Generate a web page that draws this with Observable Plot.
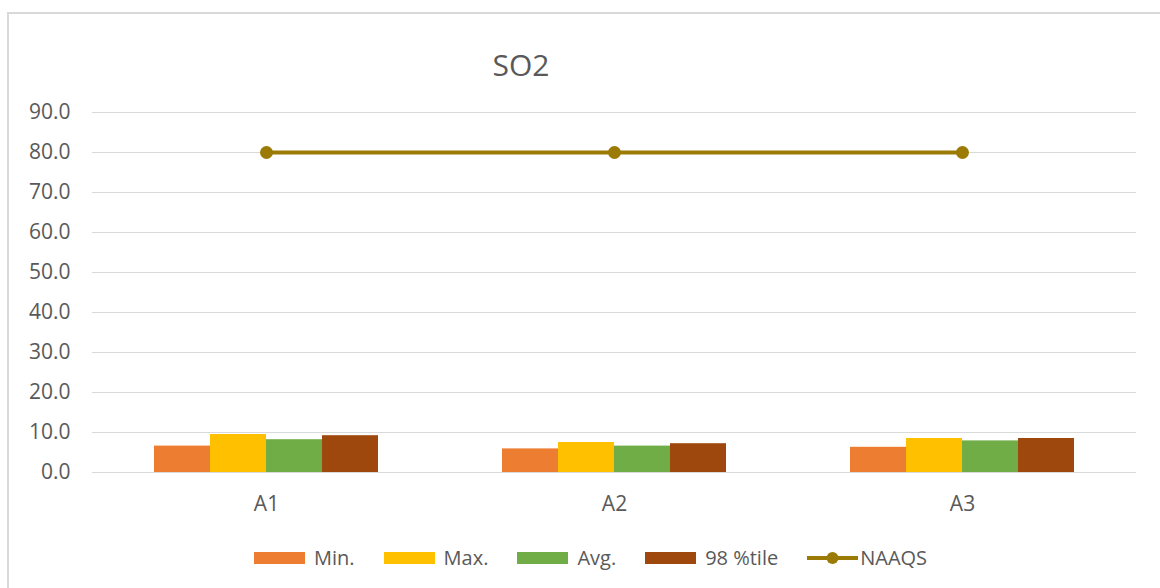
<!DOCTYPE html>
<html>
<head>
<meta charset="utf-8">
<script src="https://cdn.jsdelivr.net/npm/d3@7"></script>
<script src="https://cdn.jsdelivr.net/npm/@observablehq/plot@0.6"></script>
<style>
  html, body { margin: 0; padding: 0; background: #fff; }
  #wrap { position: relative; width: 1160px; height: 588px; overflow: hidden; font-family: "Open Sans", sans-serif; color: #595959; }
  #frame { position: absolute; left: 7px; top: 12px; right: -10px; bottom: -10px; border-left: 2px solid #d9d9d9; border-top: 2px solid #d9d9d9; }
  #title { position: relative; height: 95px; }
  #title span { position: absolute; left: 521px; top: 50px; transform: translateX(-50%); font-size: 30px; line-height: 30px; color: #595959; }
  #chart { position: relative; height: 435px; }
  #chart svg { position: absolute; left: 0; top: 0; }
  #legend { position: relative; height: 58px; }
  #legend .items { position: absolute; left: 254px; top: 15px; display: flex; align-items: center; gap: 29px; font-size: 20px; line-height: 26px; }
  #legend .item { display: flex; align-items: center; gap: 9px; }
  #legend .sw { width: 51px; height: 12px; display: inline-block; }
</style>
</head>
<body>
<div id="wrap">
  <div id="frame"></div>
  <div id="title"><span id="titleText"></span></div>
  <div id="chart"></div>
  <div id="legend"><div class="items" id="legendItems"></div></div>
</div>
<script>
const titleText = "SO2";
const categories = ["A1", "A2", "A3"];
const seriesNames = ["Min.", "Max.", "Avg.", "98 %tile"];
const seriesColors = ["#ED7D31", "#FFC000", "#70AD47", "#9E480E"];
const minValues = [6.6, 5.9, 6.3];
const maxValues = [9.5, 7.5, 8.5];
const avgValues = [8.2, 6.6, 7.9];
const p98Values = [9.2, 7.2, 8.5];
const naaqsName = "NAAQS";
const naaqsValues = [80, 80, 80];
const naaqsColor = "#9B7A05";
const yTicks = [0, 10, 20, 30, 40, 50, 60, 70, 80, 90];

document.getElementById("titleText").textContent = titleText;

const seriesValues = [minValues, maxValues, avgValues, p98Values];
const rows = [];
categories.forEach((c, i) => {
  seriesNames.forEach((s, j) => rows.push({cat: c, series: s, value: seriesValues[j][i]}));
});
const lineRows = categories.map((c, i) => ({cat: c, value: naaqsValues[i]}));

const W = 1160, H = 435;
const common = {
  width: W, height: H,
  marginLeft: 91, marginRight: 24, marginTop: 17, marginBottom: 58,
  style: {fontFamily: "Open Sans, sans-serif", fontSize: "21px", color: "#595959", background: "transparent", overflow: "visible"}
};

const base = Plot.plot({
  ...common,
  facet: {data: rows, x: "cat"},
  fx: {domain: categories, padding: 0, label: null, tickSize: 0, tickPadding: 24, axis: "bottom"},
  x: {domain: seriesNames, paddingInner: 0, paddingOuter: 1.08, axis: null},
  y: {domain: [0, 90], ticks: yTicks, tickFormat: d3.format(".1f"), label: null, tickSize: 0, tickPadding: 22},
  color: {domain: seriesNames, range: seriesColors},
  marks: [
    Plot.ruleY(yTicks, {stroke: "#d9d9d9", strokeWidth: 1}),
    Plot.barY(rows, {x: "series", y: "value", fill: "series"})
  ]
});

const overlay = Plot.plot({
  ...common,
  x: {type: "band", domain: categories, padding: 0, axis: null},
  y: {domain: [0, 90], axis: null},
  marks: [
    Plot.lineY(lineRows, {x: "cat", y: "value", stroke: naaqsColor, strokeWidth: 4}),
    Plot.dot(lineRows, {x: "cat", y: "value", r: 6.5, fill: naaqsColor, stroke: "none"})
  ]
});
overlay.style.pointerEvents = "none";

const chart = document.getElementById("chart");
chart.appendChild(base);
chart.appendChild(overlay);

// legend
const li = document.getElementById("legendItems");
seriesNames.forEach((s, j) => {
  const it = document.createElement("div");
  it.className = "item";
  const sw = document.createElement("span");
  sw.className = "sw";
  sw.style.background = seriesColors[j];
  const t = document.createElement("span");
  t.textContent = s;
  it.appendChild(sw); it.appendChild(t);
  li.appendChild(it);
});
{
  const it = document.createElement("div");
  it.className = "item";
  it.style.gap = "2px";
  const ns = "http://www.w3.org/2000/svg";
  const svg = document.createElementNS(ns, "svg");
  svg.setAttribute("width", "51"); svg.setAttribute("height", "16");
  const ln = document.createElementNS(ns, "line");
  ln.setAttribute("x1", "0"); ln.setAttribute("x2", "51"); ln.setAttribute("y1", "8"); ln.setAttribute("y2", "8");
  ln.setAttribute("stroke", naaqsColor); ln.setAttribute("stroke-width", "4");
  const cc = document.createElementNS(ns, "circle");
  cc.setAttribute("cx", "25.5"); cc.setAttribute("cy", "8"); cc.setAttribute("r", "6"); cc.setAttribute("fill", naaqsColor);
  svg.appendChild(ln); svg.appendChild(cc);
  const t = document.createElement("span");
  t.textContent = naaqsName;
  it.appendChild(svg); it.appendChild(t);
  li.appendChild(it);
}
</script>
</body>
</html>
